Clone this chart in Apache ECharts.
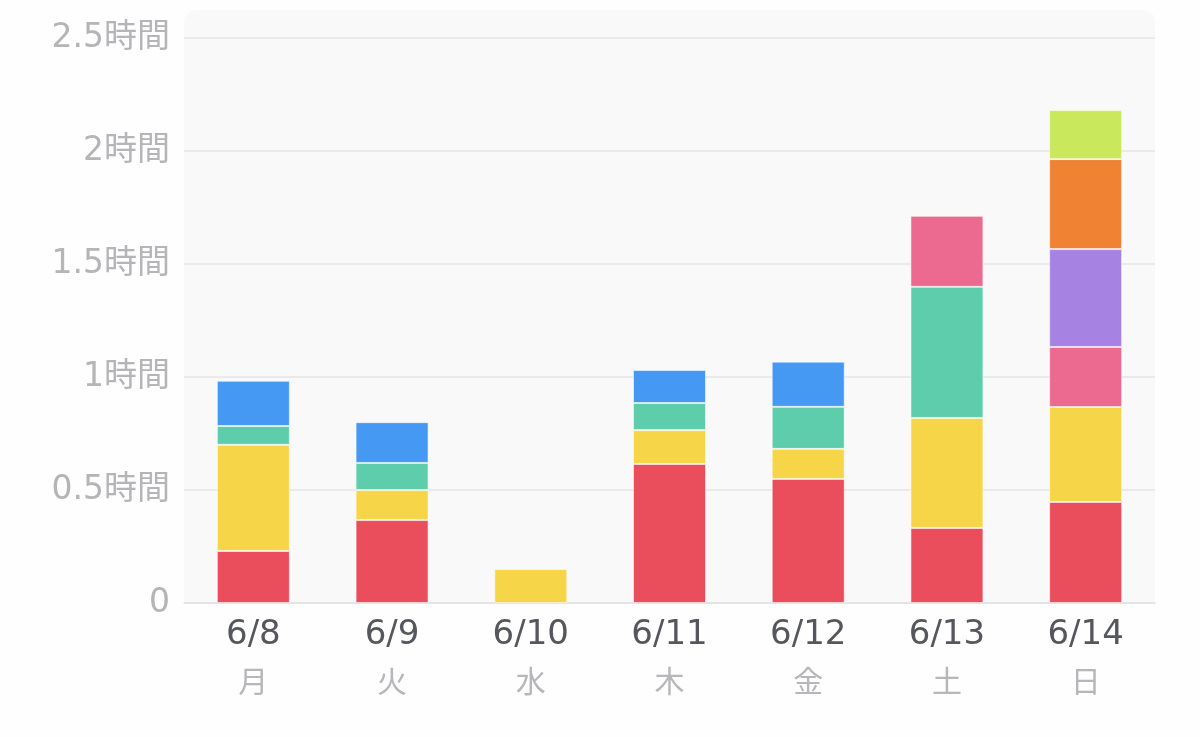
<!DOCTYPE html>
<html>
<head>
<meta charset="utf-8">
<script src="https://cdn.jsdelivr.net/npm/echarts@6/dist/echarts.min.js"></script>
<style>
  html, body { margin: 0; padding: 0; background: #fefefe; }
  #chart { width: 1200px; height: 737px; }
</style>
</head>
<body>
<div id="chart"></div>
<script>
const dates = ['6/8', '6/9', '6/10', '6/11', '6/12', '6/13', '6/14'];
const weekdays = ['月', '火', '水', '木', '金', '土', '日'];
const yTicks = [0, 0.5, 1, 1.5, 2, 2.5];

// hours per segment, bottom to top
const redHours    = [0.23, 0.367, 0,    0.615, 0.549, 0.332, 0.447];
const yellowHours = [0.47, 0.133, 0.15, 0.15,  0.133, 0.487, 0.42];
const greenHours  = [0.083, 0.12, 0,    0.12,  0.186, 0.58,  0];
const blueHours   = [0.2,  0.18,  0,    0.146, 0.2,   0,     0];
const pinkHours   = [0,    0,     0,    0,     0,     0.314, 0.266];
const purpleHours = [0,    0,     0,    0,     0,     0,     0.433];
const orangeHours = [0,    0,     0,    0,     0,     0,     0.398];
const limeHours   = [0,    0,     0,    0,     0,     0,     0.217];

const stackSeries = [
    { name: 'red', data: redHours, color: '#ea4e5c' },
    { name: 'yellow', data: yellowHours, color: '#f7d549' },
    { name: 'green', data: greenHours, color: '#5ecdab' },
    { name: 'blue', data: blueHours, color: '#4599f2' },
    { name: 'pink', data: pinkHours, color: '#ec6a90' },
    { name: 'purple', data: purpleHours, color: '#a683e2' },
    { name: 'orange', data: orangeHours, color: '#ef8233' },
    { name: 'lime', data: limeHours, color: '#c9e85c' },
];

const font = '"DejaVu Sans", "Noto Sans CJK JP", sans-serif';
const kanjiFont = '"Noto Sans CJK JP", sans-serif';

const chart = echarts.init(document.getElementById('chart'), null, { renderer: 'canvas' });

chart.setOption({
    backgroundColor: '#fefefe',
    animation: false,
    grid: { left: 184, right: 45, top: 38, bottom: 134 },
    graphic: [{
        type: 'rect',
        left: 184, top: 10, z: -10,
        shape: { width: 971, height: 593, r: [12, 12, 0, 0] },
        style: { fill: '#f9f9fa' },
        silent: true,
    }],
    xAxis: {
        type: 'category',
        data: dates,
        axisLine: { lineStyle: { color: '#e2e2e5', width: 1.5 } },
        axisTick: { show: false },
        axisLabel: {
            margin: 12,
            formatter: (value, idx) => `{d|${value}}\n{w|${weekdays[idx]}}`,
            rich: {
                d: { fontSize: 34, color: '#55575d', fontFamily: font, lineHeight: 40 },
                w: { fontSize: 30, color: '#b6b6bb', fontFamily: kanjiFont, lineHeight: 52 },
            },
        },
    },
    yAxis: {
        type: 'value',
        min: 0,
        max: yTicks[yTicks.length - 1],
        interval: 0.5,
        axisLine: { show: false },
        axisTick: { show: false },
        axisLabel: {
            margin: 14,
            fontSize: 33,
            color: '#b4b4b9',
            fontFamily: font,
            formatter: (v) => v === 0 ? '0' : `${v}時間`,
        },
        splitLine: { lineStyle: { color: '#e4e4e7', width: 1.5 } },
    },
    series: stackSeries.map((s) => ({
        name: s.name,
        type: 'bar',
        stack: 'total',
        barWidth: 73,
        data: s.data.map((v) => v || null),
        itemStyle: { color: s.color, borderColor: 'rgba(255,255,255,0.55)', borderWidth: 1 },
    })),
});
</script>
</body>
</html>
